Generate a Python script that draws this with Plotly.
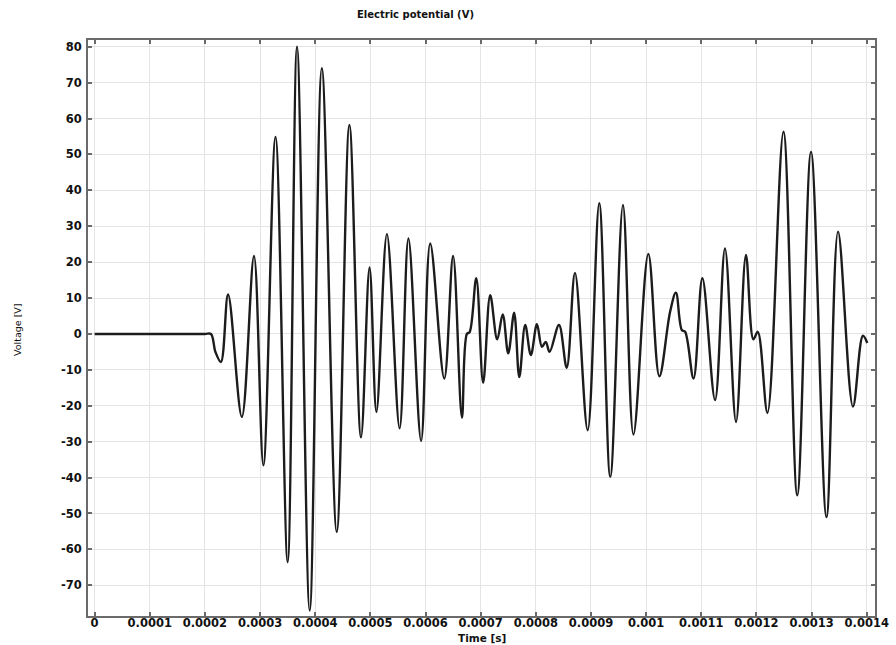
import plotly.graph_objects as go

# Time [s] and voltage [V] (extrema and shoulders)
times = [0, 0.00005, 0.0001, 0.00015, 0.0002, 0.000211, 0.000219, 0.000229,
         0.000242, 0.000267, 0.000289, 0.000306,
         0.000328, 0.000350, 0.000367, 0.000390, 0.000412, 0.000439, 0.000462,
         0.000483, 0.0004985, 0.000511, 0.000530, 0.000553, 0.000569, 0.000592,
         0.0006085, 0.000634, 0.000650, 0.000666, 0.000675, 0.000680, 0.000692,
         0.0007045, 0.0007173, 0.000730, 0.000740, 0.000750, 0.0007607, 0.000770,
         0.0007807, 0.000791, 0.000802, 0.000811, 0.000818, 0.000825, 0.000842,
         0.000856, 0.000871, 0.000894, 0.000915, 0.000935, 0.000958, 0.000977,
         0.001004, 0.001024, 0.0010435, 0.001054, 0.0010647, 0.0010707, 0.001086,
         0.001102, 0.001125, 0.001143, 0.001163, 0.001181, 0.0011945, 0.0012025,
         0.001220, 0.001249, 0.001274, 0.001299, 0.001327, 0.001348, 0.001375,
         0.001393, 0.001401]
volts = [0, 0, 0, 0, 0, 0, -5, -7.8,
         11, -23.1, 21.7, -36.6,
         54.9, -63.5, 80, -77, 74, -55.1, 58.2,
         -28.8, 18.5, -21.7, 27.8, -26.3, 26.6, -29.8,
         25.2, -12.4, 21.7, -23.3, 0.0, 0.5, 15.5,
         -13.6, 10.8, -1.5, 5.4, -5.4, 5.9, -12,
         2.5, -5.9, 2.7, -3.6, -2.2, -5, 2.5,
         -9.4, 17, -26.8, 36.4, -39.8, 35.9, -28,
         22.3, -11.8, 6.2, 11.5, 1.1, 0.6, -12.4,
         15.5, -18.4, 23.8, -24.5, 22, -1.5, 0.6,
         -22, 56.3, -44.9, 50.7, -51, 28.5, -20.2,
         -0.5, -2.5]

x_ticks = [0, 0.0001, 0.0002, 0.0003, 0.0004, 0.0005, 0.0006, 0.0007,
           0.0008, 0.0009, 0.001, 0.0011, 0.0012, 0.0013, 0.0014]
x_tick_labels = ["0", "0.0001", "0.0002", "0.0003", "0.0004", "0.0005", "0.0006",
                 "0.0007", "0.0008", "0.0009", "0.001", "0.0011", "0.0012",
                 "0.0013", "0.0014"]
y_ticks = [-70, -60, -50, -40, -30, -20, -10, 0, 10, 20, 30, 40, 50, 60, 70, 80]
y_tick_labels = [str(v) for v in y_ticks]

FONT = "DejaVu Sans"

fig = go.Figure()
fig.add_trace(go.Scatter(
    x=times, y=volts, mode="lines",
    line=dict(color="#1c1c1c", width=2.4, shape="spline", smoothing=1.0),
    showlegend=False, hoverinfo="skip"))

axis_common = dict(
    showgrid=True, gridcolor="#e4e4e4", gridwidth=1,
    showline=True, linecolor="#6a6a6a", linewidth=2, mirror="allticks",
    ticks="inside", ticklen=4, tickwidth=1.5, tickcolor="#6a6a6a",
    zeroline=False, automargin=False,
    tickfont=dict(family=FONT, size=11.5, color="#111111", weight="bold"),
)

fig.update_xaxes(range=[-0.000012, 0.001415], tickvals=x_ticks,
                 ticktext=x_tick_labels, ticklabelstandoff=-5, **axis_common)
fig.update_yaxes(range=[-78.55, 81.87], tickvals=y_ticks,
                 ticktext=y_tick_labels, ticklabelstandoff=2, **axis_common)

L, R, T, B = 88, 21, 40, 29
W, H = 896, 645
pw, ph = W - L - R, H - T - B


def px_ann(text, px, py, size, angle=0):
    return dict(text=text, xref="paper", yref="paper",
                x=(px - L) / pw, y=1 - (py - T) / ph,
                xanchor="center", yanchor="middle", showarrow=False,
                textangle=angle,
                font=dict(family=FONT, size=size, color="#111111"))


fig.update_layout(
    width=W, height=H,
    margin=dict(l=L, r=R, t=T, b=B),
    paper_bgcolor="white", plot_bgcolor="white",
    annotations=[
        px_ann("<b>Electric potential (V)</b>", 415, 14, 10),
        px_ann("<b>Time [s]</b>", 482, 638, 10.5),
        px_ann("Voltage [V]", 17, 330, 9.5, -90),
    ],
)

fig.write_html("out.html", config={"displayModeBar": False},
               post_script="document.body.style.margin='0';document.body.style.padding='0';")
